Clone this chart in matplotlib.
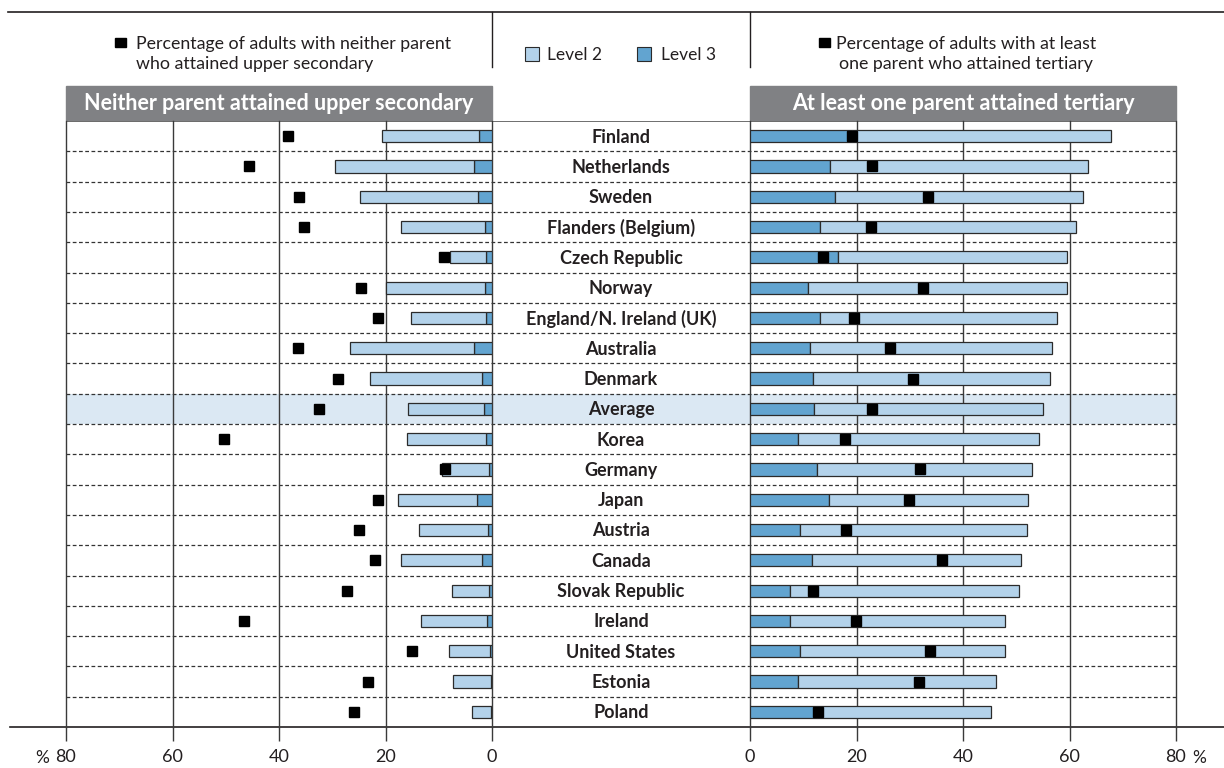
import numpy as np
import matplotlib
matplotlib.use("Agg")
import matplotlib.pyplot as plt
from matplotlib.patches import Rectangle

plt.rcParams['font.family'] = ['Lato', 'DejaVu Sans']

# data
countries = ["Finland", "Netherlands", "Sweden", "Flanders (Belgium)", "Czech Republic",
             "Norway", "England/N. Ireland (UK)", "Australia", "Denmark", "Average",
             "Korea", "Germany", "Japan", "Austria", "Canada", "Slovak Republic",
             "Ireland", "United States", "Estonia", "Poland"]

# neither parent attained upper secondary
left_l3 = [2.4, 3.3, 2.6, 1.4, 1.1, 1.4, 1.2, 3.3, 1.9, 1.5,
           1.1, 0.6, 2.8, 0.8, 1.8, 0.5, 0.9, 0.4, 0.2, 0.1]
left_l2 = [18.2, 26.1, 22.2, 15.6, 6.7, 18.5, 14.1, 23.3, 21.1, 14.2,
           14.8, 8.7, 14.9, 13.0, 15.2, 7.1, 12.4, 7.7, 7.1, 3.7]
left_share = [38.3, 45.7, 36.2, 35.3, 9.0, 24.6, 21.5, 36.4, 29.0, 32.4,
              50.3, 8.8, 21.5, 25.0, 22.0, 27.3, 46.6, 15.0, 23.3, 26.0]

# at least one parent attained tertiary
right_l3 = [19.1, 15.0, 16.0, 13.1, 16.5, 10.8, 13.1, 11.3, 11.8, 12.1,
            9.0, 12.5, 14.8, 9.3, 11.6, 7.5, 7.6, 9.4, 9.0, 12.6]
right_l2 = [48.7, 48.5, 46.6, 48.2, 43.1, 48.8, 44.5, 45.4, 44.6, 42.9,
            45.3, 40.4, 37.5, 42.8, 39.3, 43.1, 40.2, 38.4, 37.2, 32.6]
right_share = [19.2, 22.9, 33.4, 22.8, 13.7, 32.4, 19.5, 26.2, 30.6, 22.9,
               17.8, 32.0, 29.8, 18.0, 36.1, 11.9, 19.9, 33.8, 31.7, 12.7]

ticks = [0, 20, 40, 60, 80]

W, H = 1224, 768
C_L2 = '#b3d2ea'
C_L3 = '#62a4d0'
C_HL = '#dbe8f3'
C_HEAD = '#808184'
C_EDGE = '#2b2b2b'
C_TXT = '#231f20'


def box(x0, y0, x1, y1):
    # pixel box -> figure fraction
    return [x0 / W, 1 - y1 / H, (x1 - x0) / W, (y1 - y0) / H]


fig = plt.figure(figsize=(W / 100, H / 100), dpi=100)

# background layer in pixel coordinates: frame lines, legend, headers
bg = fig.add_axes([0, 0, 1, 1], zorder=0)
bg.set_xlim(0, W)
bg.set_ylim(H, 0)
bg.axis('off')

bg.plot([8, W], [12, 12], color=C_TXT, lw=1.2)
bg.plot([10, W], [727, 727], color=C_TXT, lw=1.2)
for xs in (492, 750):
    bg.plot([xs, xs], [12, 67], color=C_TXT, lw=1)

# legend
bg.add_patch(Rectangle((115, 38), 11, 9, color='black'))
bg.text(136, 54, "Percentage of adults with neither parent\nwho attained upper secondary",
        ha='left', va='center', fontsize=12.8, color=C_TXT, linespacing=1.32)
bg.add_patch(Rectangle((819, 38), 11, 9, color='black'))
bg.text(966, 54, "Percentage of adults with at least\none parent who attained tertiary",
        ha='center', va='center', fontsize=12.8, color=C_TXT, linespacing=1.32,
        multialignment='center')
bg.add_patch(Rectangle((525, 47), 14, 14, facecolor=C_L2, edgecolor=C_EDGE, lw=0.8))
bg.text(547, 55, "Level 2", ha='left', va='center', fontsize=12.5, color=C_TXT)
bg.add_patch(Rectangle((637, 47), 14, 14, facecolor=C_L3, edgecolor=C_EDGE, lw=0.8))
bg.text(661, 55, "Level 3", ha='left', va='center', fontsize=12.5, color=C_TXT)

# panel headers
for x0, x1, title in [(66, 492, "Neither parent attained upper secondary"),
                      (750, 1176, "At least one parent attained tertiary")]:
    bg.add_patch(Rectangle((x0, 86), x1 - x0, 34, color=C_HEAD))
    bg.text((x0 + x1) / 2, 103.5, title, ha='center', va='center', fontsize=15.5,
            fontweight='bold', color='white')

n = len(countries)
y = np.arange(n)

# middle layer: row separators, average band, country names
mid = fig.add_axes(box(66, 121, 1176, 727), zorder=1)
mid.set_xlim(0, 1)
mid.set_ylim(n - 0.5, -0.5)
mid.axis('off')
avg = countries.index("Average")
mid.axhspan(avg - 0.5, avg + 0.5, color=C_HL, lw=0)
mid.hlines(y[:-1] + 0.5, 0, 1, colors='#333333', lw=0.9, linestyles=(0, (3, 2)))
mid.axhline(-0.5, color='#555555', lw=1.2)
cx = (621 - 66) / (1176 - 66)
for i, c in enumerate(countries):
    mid.text(cx, i + 0.03, c, ha='center', va='center', fontsize=13, fontweight='bold',
             color=C_TXT)

# two panels
axL = fig.add_axes(box(66, 121, 492, 727), zorder=2)
axR = fig.add_axes(box(750, 121, 1176, 727), zorder=2)

for ax, l3, l2, share, lim in [(axL, left_l3, left_l2, left_share, (80, 0)),
                               (axR, right_l3, right_l2, right_share, (0, 80))]:
    ax.set_facecolor('none')
    ax.set_xlim(*lim)
    ax.set_ylim(n - 0.5, -0.5)
    ax.barh(y, l3, height=0.4, color=C_L3, edgecolor=C_EDGE, lw=0.9, zorder=3)
    ax.barh(y, l2, left=l3, height=0.4, color=C_L2, edgecolor=C_EDGE, lw=0.9, zorder=3)
    ax.plot(share, y, 's', color='black', ms=6.5, zorder=5, clip_on=False)
    ax.set_xticks(ticks)
    ax.set_xticklabels([str(t) for t in ticks])
    ax.set_yticks([])
    ax.grid(axis='x', color='#3a3a3a', lw=1, zorder=1)
    ax.tick_params(axis='x', length=10, width=1, color='#3a3a3a', pad=6,
                   labelsize=13, labelcolor=C_TXT)
    for s in ax.spines.values():
        s.set_visible(False)
    for gl in ax.get_xgridlines():
        gl.set_clip_on(False)

bg.text(49, 758, "%", ha='right', va='center', fontsize=12.5, color=C_TXT)
bg.text(1192, 758, "%", ha='left', va='center', fontsize=12.5, color=C_TXT)

fig.savefig("out.png", dpi=100)
